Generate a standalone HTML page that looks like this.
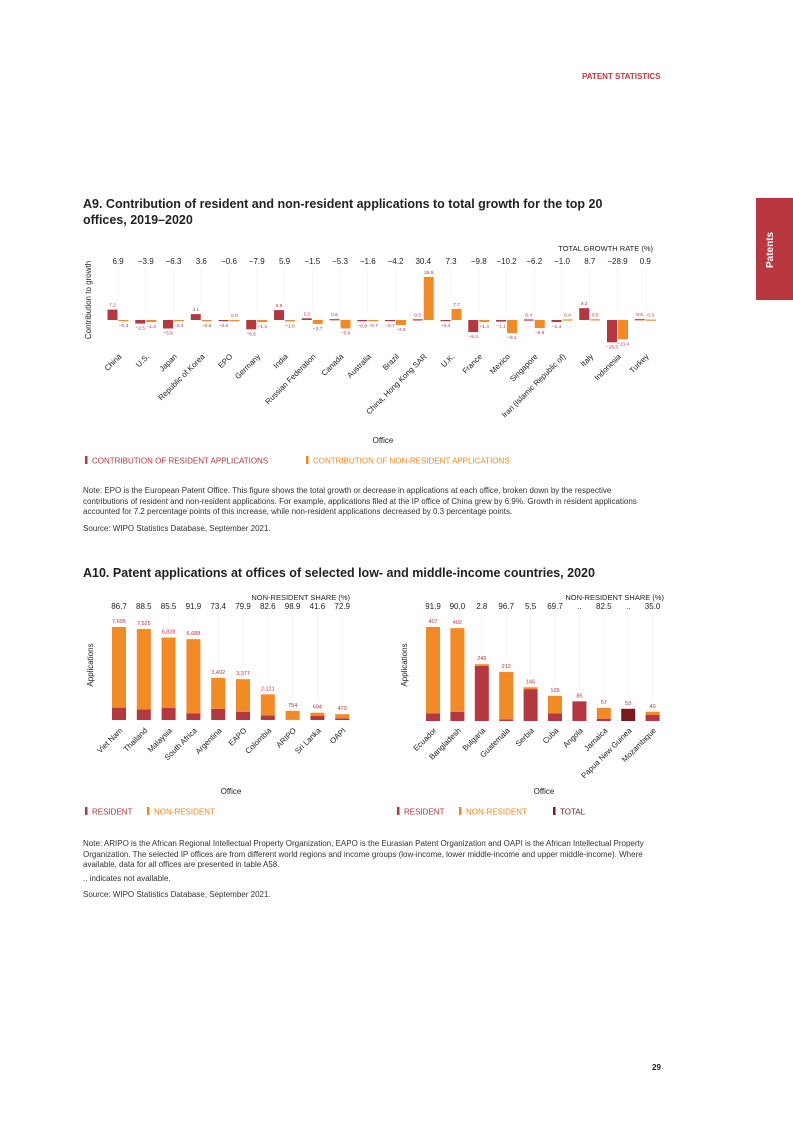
<!DOCTYPE html>
<html><head><meta charset="utf-8"><style>
body{margin:0;width:793px;height:1122px;position:relative;background:#fff;font-family:"Liberation Sans",Arial,sans-serif;color:#222;overflow:hidden}
.abs{position:absolute}
.note{font-size:8px;line-height:10.5px;color:#333;width:575px}
h2{margin:0;font-size:12.5px;line-height:16px;font-weight:bold;color:#222}
svg text{font-family:"Liberation Sans",Arial,sans-serif}
</style></head><body>
<div class="abs" style="left:582px;top:72px;font-size:8px;font-weight:bold;color:#c0393f">PATENT STATISTICS</div>
<div class="abs" style="left:756px;top:198px;width:37px;height:102px;background:#b9373e"><div style="position:absolute;left:9px;top:70px;transform:rotate(-90deg);transform-origin:0 0;color:#fff;font-size:10px;font-weight:bold">Patents</div></div>
<h2 class="abs" style="left:83px;top:196px;width:540px">A9. Contribution of resident and non-resident applications to total growth for the top 20 offices, 2019–2020</h2>
<h2 class="abs" style="left:83px;top:565px">A10. Patent applications at offices of selected low- and middle-income countries, 2020</h2>
<div class="abs note" style="left:83px;top:486px">Note: EPO is the European Patent Office. This figure shows the total growth or decrease in applications at each office, broken down by the respective contributions of resident and non-resident applications. For example, applications filed at the IP office of China grew by 6.9%. Growth in resident applications accounted for 7.2 percentage points of this increase, while non-resident applications decreased by 0.3 percentage points.</div>
<div class="abs note" style="left:83px;top:524px">Source: WIPO Statistics Database, September 2021.</div>
<div class="abs note" style="left:83px;top:839px">Note: ARIPO is the African Regional Intellectual Property Organization, EAPO is the Eurasian Patent Organization and OAPI is the African Intellectual Property Organization. The selected IP offices are from different world regions and income groups (low-income, lower middle-income and upper middle-income). Where available, data for all offices are presented in table A58.</div>
<div class="abs note" style="left:83px;top:874px">.. indicates not available.</div>
<div class="abs note" style="left:83px;top:890px">Source: WIPO Statistics Database, September 2021.</div>
<div class="abs" style="left:652px;top:1063px;font-size:8px;font-weight:bold">29</div>
<svg class="abs" style="left:0;top:0" width="793" height="1122" id="cv"></svg>
<script>
const a9Cats=["China","U.S.","Japan","Republic of Korea","EPO","Germany","India","Russian Federation","Canada","Australia","Brazil","China, Hong Kong SAR","U.K.","France","Mexico","Singapore","Iran (Islamic Republic of)","Italy","Indonesia","Turkey"];
const a9Total=["6.9","−3.9","−6.3","3.6","−0.6","−7.9","5.9","−1.5","−5.3","−1.6","−4.2","30.4","7.3","−9.8","−10.2","−6.2","−1.0","8.7","−28.9","0.9"];
const a9Res=[7.2,-2.5,-5.9,4.1,-0.6,-6.5,6.9,1.2,0.6,-0.9,-0.7,0.5,-0.4,-8.4,-1.1,0.4,-1.4,8.2,-15.5,0.6];
const a9NonRes=[-0.3,-1.4,-0.4,-0.5,0.0,-1.4,-1.0,-2.7,-5.9,-0.7,-3.5,29.9,7.7,-1.4,-9.1,-5.6,0.4,0.5,-13.4,0.3];
const lCats=["Viet Nam","Thailand","Malaysia","South Africa","Argentina","EAPO","Colombia","ARIPO","Sri Lanka","OAPI"];
const lShare=["86.7","88.5","85.5","91.9","73.4","79.9","82.6","98.9","41.6","72.9"];
const lRes=[1024,865,990,542,929,679,369,8,353,130];
const lNonRes=[6671,6660,5838,6146,2563,2698,1752,746,251,349];
const rCats=["Ecuador","Bangladesh","Bulgaria","Guatemala","Serbia","Cuba","Angola","Jamaica","Papua New Guinea","Mozambique"];
const rShare=["91.9","90.0","2.8","96.7","5.5","69.7","..","82.5","..","35.0"];
const rRes=[33,40,239,7,138,33,85,10,0,26];
const rNonRes=[374,362,7,205,8,76,0,47,0,14];
const rTotalOnly=[0,0,0,0,0,0,0,0,53,0];

const RED="#b5373f",ORG="#f28a26",DARK="#7a1a1f",NS="http://www.w3.org/2000/svg";
const svg=document.getElementById('cv');
function mk(tag,at,txt,name){const e=document.createElementNS(NS,tag);for(const k in at)e.setAttribute(k,at[k]);if(txt!=null)e.textContent=txt;


svg.appendChild(e);return e;}
function fmt(n){return n.toLocaleString('en-US');}

// A9
const x9=i=>118+i*27.75, y9=v=>320-v*1.44;
mk('text',{x:653,y:251,'font-size':7.5,'text-anchor':'end',fill:'#222'},'TOTAL GROWTH RATE (%)','a9-total-header');
mk('text',{x:0,y:0,'font-size':8,'text-anchor':'middle',fill:'#222',transform:'translate(91,300) rotate(-90)'},'Contribution to growth','a9-y-axis-title');
a9Cats.forEach((c,i)=>{const cx=x9(i);
 mk('text',{x:cx,y:264,'font-size':8,'text-anchor':'middle',fill:'#222'},a9Total[i],'a9-total-label');
 const top=Math.min(y9(a9Res[i]),y9(a9NonRes[i]),320);
 mk('line',{x1:cx,y1:268,x2:cx,y2:top-8,stroke:'#eee','stroke-width':0.6},null,'a9-gridline');
 [[a9Res[i],cx-10.5,RED,'a9-resident-bar'],[a9NonRes[i],cx+0.5,ORG,'a9-nonresident-bar']].forEach(([v,x,col,nm])=>{
  const y=Math.min(y9(v),320),h=Math.max(Math.abs(y9(v)-320),1.2);
  mk('rect',{x:x,y:y,width:10,height:h,fill:col},null,nm);
  const ly=v>=0?y-3:y+h+6;
  mk('text',{x:x+5,y:ly,'font-size':4.8,'text-anchor':'middle',fill:RED},v.toFixed(1).replace('-','−'),'a9-value-label');
 });
 mk('text',{x:cx+4,y:357,'font-size':7.8,'text-anchor':'end',fill:'#222',transform:`rotate(-45 ${cx+4} 357)`},c,'a9-category-label');
});
mk('text',{x:383,y:443,'font-size':8,'text-anchor':'middle',fill:'#222'},'Office','a9-x-axis-title');
mk('rect',{x:85,y:456,width:2.5,height:8,fill:RED},null,'a9-legend-resident-swatch');
mk('text',{x:92,y:463.5,'font-size':8,fill:RED},'CONTRIBUTION OF RESIDENT APPLICATIONS','a9-legend-resident');
mk('rect',{x:306,y:456,width:2.5,height:8,fill:ORG},null,'a9-legend-nonresident-swatch');
mk('text',{x:313,y:463.5,'font-size':8,fill:ORG},'CONTRIBUTION OF NON-RESIDENT APPLICATIONS','a9-legend-nonresident');

// A10 panels
function panel(cats,share,res,nr,tot,x0,step,base,scale,right,pre){
 mk('text',{x:right,y:600,'font-size':7.5,'text-anchor':'end',fill:'#222'},'NON-RESIDENT SHARE (%)',pre+'-share-header');
 mk('text',{x:0,y:0,'font-size':8,'text-anchor':'middle',fill:'#222',transform:`translate(${x0-26},665) rotate(-90)`},'Applications',pre+'-y-axis-title');
 cats.forEach((c,i)=>{const cx=x0+i*step;const total=res[i]+nr[i]+tot[i];
  mk('text',{x:cx,y:609,'font-size':8,'text-anchor':'middle',fill:'#222'},share[i],pre+'-share-label');
  const ty=base-total*scale;
  mk('line',{x1:cx,y1:613,x2:cx,y2:ty-12,stroke:'#eee','stroke-width':0.6},null,pre+'-gridline');
  const hr=res[i]*scale,hn=nr[i]*scale,ht=tot[i]*scale;
  if(hr>0)mk('rect',{x:cx-7,y:base-hr,width:14,height:hr,fill:RED},null,pre+'-resident-bar');
  if(hn>0)mk('rect',{x:cx-7,y:base-hr-hn,width:14,height:hn,fill:ORG},null,pre+'-nonresident-bar');
  if(ht>0)mk('rect',{x:cx-7,y:base-ht,width:14,height:ht,fill:DARK},null,pre+'-total-bar');
  mk('text',{x:cx,y:ty-4,'font-size':5.5,'text-anchor':'middle',fill:RED},fmt(total),pre+'-total-label');
  mk('text',{x:cx+4,y:731,'font-size':7.8,'text-anchor':'end',fill:'#222',transform:`rotate(-45 ${cx+4} 731)`},c,pre+'-category-label');
 });
}
panel(lCats,lShare,lRes,lNonRes,[0,0,0,0,0,0,0,0,0,0],119,24.8,720,93/7695,350,'a10-left');
panel(rCats,rShare,rRes,rNonRes,rTotalOnly,433,24.4,721,94/407,664,'a10-right');
mk('text',{x:231,y:794,'font-size':8,'text-anchor':'middle',fill:'#222'},'Office','a10-left-x-axis-title');
mk('text',{x:544,y:794,'font-size':8,'text-anchor':'middle',fill:'#222'},'Office','a10-right-x-axis-title');
function leg(x,col,t,n){mk('rect',{x:x,y:807,width:2.5,height:8,fill:col},null,n+'-swatch');mk('text',{x:x+7,y:814.5,'font-size':8,fill:col},t,n);}
leg(85,RED,'RESIDENT','a10-left-legend-resident');leg(147,ORG,'NON-RESIDENT','a10-left-legend-nonresident');
leg(397,RED,'RESIDENT','a10-right-legend-resident');leg(459,ORG,'NON-RESIDENT','a10-right-legend-nonresident');leg(553,DARK,'TOTAL','a10-right-legend-total');
</script>
</body></html>
